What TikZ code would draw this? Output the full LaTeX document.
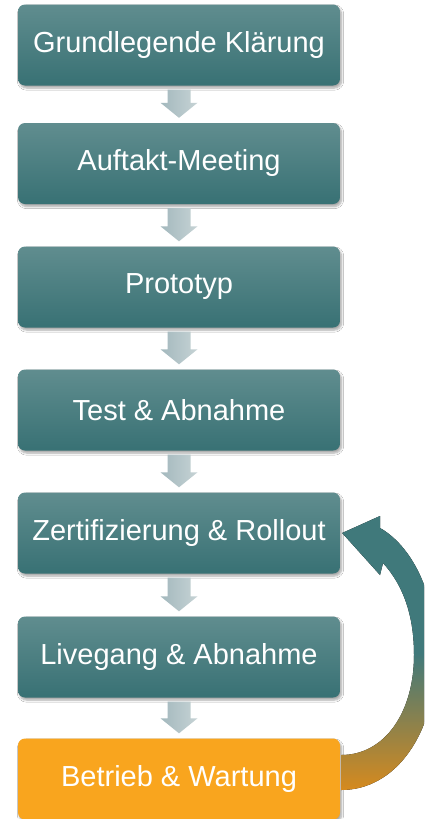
\documentclass[tikz,border=0pt]{standalone}
\usepackage{fontspec}
\setmainfont{Liberation Sans}
\usetikzlibrary{calc,shadows.blur}
\definecolor{tealtop}{RGB}{96,141,143}
\definecolor{tealbot}{RGB}{56,113,116}
\definecolor{orangeC}{RGB}{249,165,30}
\definecolor{arrowL}{RGB}{163,184,189}
\definecolor{arrowR}{RGB}{198,211,213}
\definecolor{curveteal}{RGB}{64,121,123}
\definecolor{curveorange}{RGB}{214,138,30}
\newcommand\downarr[2]{%
  \path[downarrow] ($(#1.south)+(-11.5,4)$) -- ($(#1.south)+(11.5,4)$)
    -- ($(#2.north)+(11.5,-20)$) -- ($(#2.north)+(18.5,-20)$)
    -- ($(#2.north)+(0,-5)$) -- ($(#2.north)+(-18.5,-20)$)
    -- ($(#2.north)+(-11.5,-20)$) -- cycle;}
\begin{document}
\begin{tikzpicture}[x=1pt,y=-1pt,
  stepbox/.style={rounded corners=7pt, minimum width=322pt, minimum height=81pt,
    inner sep=0pt, text=white, font=\fontsize{29}{34}\selectfont,
    blur shadow={shadow xshift=1.5pt, shadow yshift=-2.5pt, shadow blur steps=6, shadow opacity=35}},
  tealbox/.style={stepbox, top color=tealtop, bottom color=tealbot},
  orangebox/.style={stepbox, fill=orangeC},
  downarrow/.style={left color=arrowL, right color=arrowR}]
\clip (0,0) rectangle (424,819);
\fill[white] (0,0) rectangle (424,819);
\node[tealbox] (b1) at (179,45) {Grundlegende Klärung};
\node[tealbox] (b2) at (179,163.5) {Auftakt-Meeting};
\node[tealbox] (b3) at (179,287) {Prototyp};
\node[tealbox] (b4) at (179,410) {Test \& Abnahme};
\node[tealbox] (b5) at (179,533) {Zertifizierung \& Rollout};
\node[tealbox] (b6) at (179,657) {Livegang \& Abnahme};
\node[orangebox] (b7) at (179,779) {Betrieb \& Wartung};
\downarr{b1}{b2}
\downarr{b2}{b3}
\downarr{b3}{b4}
\downarr{b4}{b5}
\downarr{b5}{b6}
\downarr{b6}{b7}
\coordinate (tip) at ($(b5.east)+(2,0)$);
\coordinate (outS) at ($(b7.east)+(1,11)$);
\coordinate (inS) at ($(b7.east)+(1,-24)$);
\fill[top color=curveteal, bottom color=curveorange, middle color=curveteal]
  (outS) .. controls (395,790) and (436,735) .. (436,655)
  .. controls (436,590) and (410,545) .. (380,528)
  -- (380,516) -- (tip) -- (380,575) -- (383,563)
  .. controls (403,585) and (414,615) .. (414,655)
  .. controls (414,712) and (385,755) .. (inS) -- cycle;
\end{tikzpicture}
\end{document}
